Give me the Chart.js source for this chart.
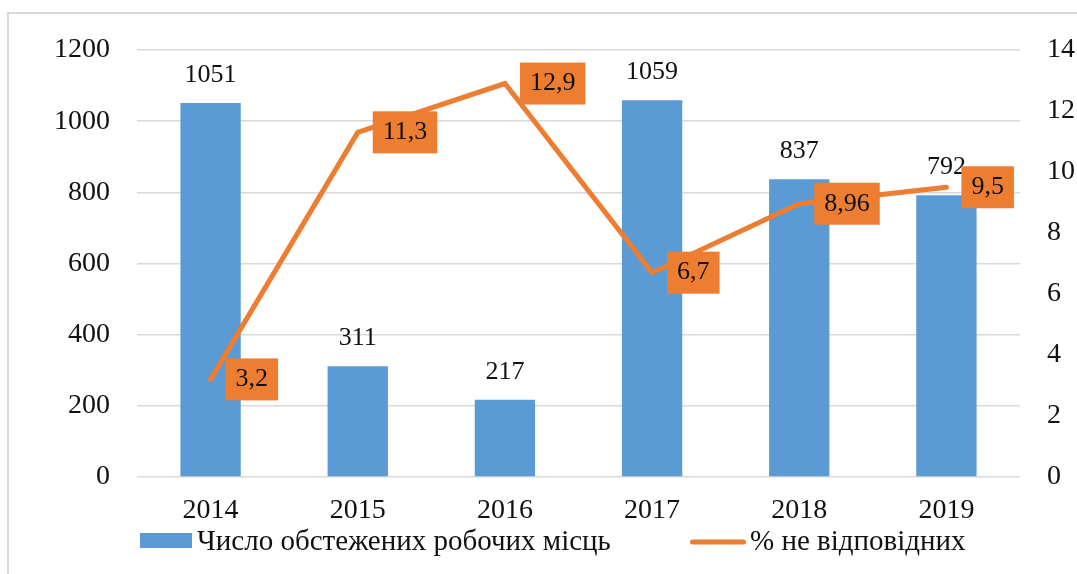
<!DOCTYPE html>
<html><head><meta charset="utf-8">
<script src="https://cdn.jsdelivr.net/npm/chart.js@4/dist/chart.umd.min.js"></script>
<style>html,body{margin:0;padding:0;background:#fff;overflow:hidden}#wrap{position:relative;width:1077px;height:574px}canvas{display:block}</style>
</head><body><div id="wrap"><canvas id="c" width="1077" height="574"></canvas></div>
<script>
const categories = ['2014', '2015', '2016', '2017', '2018', '2019'];
const workplaces = [1051, 311, 217, 1059, 837, 792];
const nonCompliantPct = [3.2, 11.3, 12.9, 6.7, 8.96, 9.5];
const leftTicks = [0, 200, 400, 600, 800, 1000, 1200];
const rightTicks = [0, 2, 4, 6, 8, 10, 12, 14];
const seriesNames = ['Число обстежених робочих місць', '% не відповідних'];

const BLUE = '#5B9BD5';
const ORANGE = '#ED7D31';
const TEXT = '#111111';
const FONT_FAMILY = '"Liberation Serif", "Times New Roman", serif';
const tickFont = { family: FONT_FAMILY, size: 28 };
const LABEL_SIZE = 26;
const LEGEND_SIZE = 29;
const fmt = v => String(v).replace('.', ',');

const frame = {
  id: 'frame',
  beforeDraw(chart) {
    const ctx = chart.ctx;
    ctx.save();
    ctx.fillStyle = '#fff';
    ctx.fillRect(0, 0, chart.width, chart.height);
    ctx.strokeStyle = '#d9d9d9';
    ctx.lineWidth = 2;
    ctx.beginPath();
    ctx.moveTo(8, chart.height + 2);
    ctx.lineTo(8, 13);
    ctx.lineTo(chart.width + 2, 13);
    ctx.stroke();
    ctx.restore();
  }
};

const valueLabels = {
  id: 'valueLabels',
  afterDatasetsDraw(chart) {
    const ctx = chart.ctx;
    ctx.save();
    ctx.font = `${LABEL_SIZE}px ${FONT_FAMILY}`;
    const barMeta = chart.getDatasetMeta(0);
    ctx.fillStyle = TEXT;
    ctx.textAlign = 'center';
    ctx.textBaseline = 'middle';
    barMeta.data.forEach((el, i) => {
      ctx.fillText(fmt(chart.data.datasets[0].data[i]), el.x, el.y - 28);
    });
    const lineMeta = chart.getDatasetMeta(1);
    lineMeta.data.forEach((el, i) => {
      const t = fmt(chart.data.datasets[1].data[i]);
      const w = ctx.measureText(t).width + 20;
      const h = 42;
      const bx = el.x + 15, by = el.y - h / 2;
      ctx.fillStyle = ORANGE;
      ctx.fillRect(bx, by, w, h);
      ctx.fillStyle = TEXT;
      ctx.textAlign = 'center';
      ctx.fillText(t, bx + w / 2, el.y);
    });
    ctx.restore();
  }
};

const customLegend = {
  id: 'customLegend',
  afterDraw(chart) {
    const ctx = chart.ctx;
    const ds = chart.data.datasets;
    const cy = 542;
    ctx.save();
    ctx.font = `${LEGEND_SIZE}px ${FONT_FAMILY}`;
    ctx.textBaseline = 'middle';
    ctx.textAlign = 'left';
    ctx.fillStyle = ds[0].backgroundColor;
    ctx.fillRect(140, 533, 52, 15);
    ctx.fillStyle = TEXT;
    ctx.fillText(ds[0].label, 197, cy);
    ctx.strokeStyle = ds[1].borderColor;
    ctx.lineWidth = 5;
    ctx.lineCap = 'round';
    ctx.beginPath();
    ctx.moveTo(692.5, cy);
    ctx.lineTo(743.5, cy);
    ctx.stroke();
    ctx.fillStyle = TEXT;
    ctx.fillText(ds[1].label, 750, cy);
    ctx.restore();
  }
};

new Chart(document.getElementById('c'), {
  type: 'bar',
  data: {
    labels: categories,
    datasets: [
      {
        type: 'bar',
        label: seriesNames[0],
        data: workplaces,
        backgroundColor: BLUE,
        borderWidth: 0,
        barPercentage: 0.41,
        categoryPercentage: 1,
        yAxisID: 'y',
        order: 1
      },
      {
        type: 'line',
        label: seriesNames[1],
        data: nonCompliantPct,
        borderColor: ORANGE,
        backgroundColor: ORANGE,
        borderWidth: 5,
        borderCapStyle: 'round',
        pointRadius: 0,
        pointHoverRadius: 0,
        tension: 0,
        yAxisID: 'y1',
        order: 0
      }
    ]
  },
  options: {
    responsive: false,
    animation: false,
    devicePixelRatio: 1,
    layout: { padding: { top: 50, bottom: 50, left: 0, right: 0 } },
    plugins: {
      legend: { display: false },
      tooltip: { enabled: false }
    },
    scales: {
      x: {
        grid: { display: false, drawTicks: false },
        border: { display: false },
        ticks: { font: tickFont, color: TEXT, padding: 17 },
        afterFit: s => { s.height = 47; }
      },
      y: {
        position: 'left',
        min: leftTicks[0],
        max: leftTicks[leftTicks.length - 1],
        afterBuildTicks: s => { s.ticks = leftTicks.map(v => ({ value: v })); },
        ticks: { font: tickFont, color: TEXT, padding: 27, callback: v => String(v) },
        grid: { color: '#d9d9d9', lineWidth: 1.5, drawTicks: false },
        border: { display: false },
        afterFit: s => { s.width = 137; }
      },
      y1: {
        position: 'right',
        min: rightTicks[0],
        max: rightTicks[rightTicks.length - 1],
        afterBuildTicks: s => { s.ticks = rightTicks.map(v => ({ value: v })); },
        ticks: { font: tickFont, color: TEXT, padding: 27, callback: v => String(v) },
        grid: { display: false, drawTicks: false },
        border: { display: false },
        afterFit: s => { s.width = 57; }
      }
    }
  },
  plugins: [frame, valueLabels, customLegend]
});
</script>
</body></html>
